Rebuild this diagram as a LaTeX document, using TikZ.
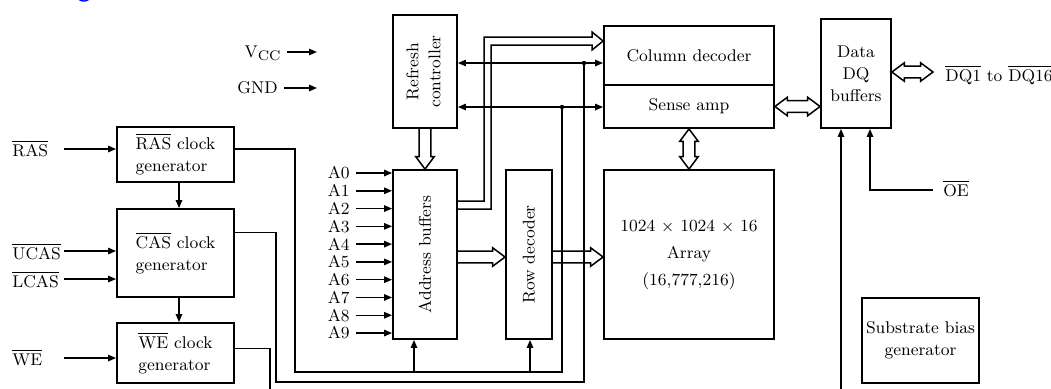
\documentclass[tikz,border=0pt]{standalone}
\usepackage{graphicx}
\usetikzlibrary{arrows.meta,calc}
\newcommand\ovl[1]{$\overline{\mbox{#1}}$}
\def\busw{2.9pt}\def\bush{4.6pt}\def\busl{6.2pt}
\newcommand\hbusR[2]{\draw[bus] let \p1=#1, \p2=#2 in (\x1,\y1+\busw) -- (\x2-\busl,\y1+\busw) -- (\x2-\busl,\y1+\bush) -- (\x2,\y1) -- (\x2-\busl,\y1-\bush) -- (\x2-\busl,\y1-\busw) -- (\x1,\y1-\busw);}
\newcommand\hbusD[2]{\draw[bus] let \p1=#1, \p2=#2 in (\x1,\y1) -- (\x1+\busl,\y1+\bush) -- (\x1+\busl,\y1+\busw) -- (\x2-\busl,\y1+\busw) -- (\x2-\busl,\y1+\bush) -- (\x2,\y1) -- (\x2-\busl,\y1-\bush) -- (\x2-\busl,\y1-\busw) -- (\x1+\busl,\y1-\busw) -- (\x1+\busl,\y1-\bush) -- cycle;}
\newcommand\vbusS[2]{\draw[bus] let \p1=#1, \p2=#2 in (\x1-\busw,\y1) -- (\x1-\busw,\y2+\busl) -- (\x1-\bush,\y2+\busl) -- (\x1,\y2) -- (\x1+\bush,\y2+\busl) -- (\x1+\busw,\y2+\busl) -- (\x1+\busw,\y1);}
\newcommand\vbusD[2]{\draw[bus] let \p1=#1, \p2=#2 in (\x1,\y1) -- (\x1+\bush,\y1-\busl) -- (\x1+\busw,\y1-\busl) -- (\x1+\busw,\y2+\busl) -- (\x1+\bush,\y2+\busl) -- (\x1,\y2) -- (\x1-\bush,\y2+\busl) -- (\x1-\busw,\y2+\busl) -- (\x1-\busw,\y1-\busl) -- (\x1-\bush,\y1-\busl) -- cycle;}
\tikzset{
 box/.style={draw, line width=0.9pt, inner sep=1pt, align=center, font=\fontsize{8.5}{11}\selectfont},
 lbl/.style={inner sep=3pt, font=\fontsize{8.5}{11}\selectfont},
 sig/.style={line width=0.75pt, -{Triangle[length=4pt,width=3.2pt]}},
 sigB/.style={line width=0.75pt, {Triangle[length=4pt,width=3.2pt]}-{Triangle[length=4pt,width=3.2pt]}},
 wire/.style={line width=0.75pt},
 bus/.style={line width=0.75pt, line join=miter},
}
\begin{document}
\begin{tikzpicture}[x=0.5pt,y=-0.5pt]
\useasboundingbox (0,0) rectangle (1051,388);
\node[text=blue, font=\fontsize{14}{14}\sffamily\selectfont, anchor=base, inner sep=0] (ttl) at (84,-4) {g};

% boxes
\node[box, align=left, minimum width=58.5pt, minimum height=27.5pt] (ras) at (175.5,154.5) {\ovl{RAS} clock\\generator};
\node[box, align=left, minimum width=58.5pt, minimum height=44pt] (cas) at (175.5,253) {\ovl{CAS} clock\\generator};
\node[box, align=left, minimum width=58.5pt, minimum height=30pt] (we) at (175.5,353) {\ovl{WE} clock\\generator};
\node[box, minimum width=32pt, minimum height=56.5pt] (ref) at (425,71.5) {\rotatebox{90}{\begin{tabular}{@{}c@{}}Refresh\\controller\end{tabular}}};
\node[box, minimum width=32pt, minimum height=84.5pt] (addr) at (425,254.5) {\rotatebox{90}{Address buffers}};
\node[box, minimum width=23pt, minimum height=84.5pt] (row) at (529,254.5) {\rotatebox{90}{Row decoder}};
\node[box, minimum width=85pt, minimum height=29.5pt] (col) at (689,55.5) {Column decoder};
\node[box, minimum width=85pt, minimum height=21.5pt] (sense) at (689,106.5) {Sense amp};
\node[box, minimum width=85pt, minimum height=84.5pt, font=\fontsize{8.5}{13.5}\selectfont] (arr) at (689,254.5) {1024 $\times$ 1024 $\times$ 16\\Array\\(16,777,216)};
\node[box, minimum width=35pt, minimum height=54.5pt] (dq) at (856,73.5) {Data\\DQ\\buffers};
\node[box, minimum width=58.5pt, minimum height=42.5pt] (sub) at (920.5,340.5) {Substrate bias\\generator};

% power labels
\node[lbl, anchor=base east] (vcc) at (287,57) {V\raisebox{-1.6pt}{\fontsize{7}{7}\selectfont CC}};
\node[lbl, anchor=base east] (gnd) at (284,93) {GND};
\coordinate (vcce) at (317,52);
\coordinate (gnde) at (317,88);
\draw[sig] (vcc.east |- vcce) -- (vcce);
\draw[sig] (gnd.east |- gnde) -- (gnde);

% control inputs
\node[lbl, anchor=base west] (lras) at (6,156) {\ovl{RAS}};
\node[lbl, anchor=base west] (lucas) at (6,259) {\ovl{UCAS}};
\node[lbl, anchor=base west] (llcas) at (6,287) {\ovl{LCAS}};
\node[lbl, anchor=base west] (lwe) at (6,365) {\ovl{WE}};
\coordinate (iras) at (64,149);
\coordinate (iucas) at (64,251);
\coordinate (ilcas) at (64,279);
\coordinate (iwe) at (64,358);
\draw[sig] (iras) -- (iras -| ras.west);
\draw[sig] (iucas) -- (iucas -| cas.west);
\draw[sig] (ilcas) -- (ilcas -| cas.west);
\draw[sig] (iwe) -- (iwe -| we.west);
\draw[sig] ([xshift=1.75pt]ras.south) -- ([xshift=1.75pt]cas.north);
\draw[sig] ([xshift=1.75pt]cas.south) -- ([xshift=1.75pt]we.north);

% address inputs
\foreach \i in {0,...,9} {
  \node[lbl, anchor=east] (a\i) at (356,{173+17.78*\i}) {A\i};
  \draw[sig] (a\i) -- (a\i -| addr.west);
}

% clock lines
\coordinate (rasout) at ($(ras.north east)!0.4!(ras.south east)$);
\coordinate (casout) at ($(cas.north east)!0.27!(cas.south east)$);
\coordinate (weout) at ($(we.north east)!0.43!(we.south east)$);
\coordinate (r1) at (295,372);
\coordinate (r2) at (562,372);
\coordinate (c1) at (276,382);
\coordinate (c2) at (584,382);
\coordinate (w1) at (270,395);
\coordinate (d1) at (584,63);
\coordinate (d2) at (562,107);
\draw[wire] (rasout) -| (r1) -- (r2) -- (d2);
\draw[wire] (casout) -| (c1) -- (c2) -- (d1);
\draw[wire] (weout) -| (w1);
\coordinate (t1) at (414,372);
\coordinate (t2) at (530,372);
\draw[sig] (t1) -- (t1 |- addr.south);
\draw[sig] (t2) -- (t2 |- row.south);
\fill (d1) circle (1.1pt);
\fill (d2) circle (1.1pt);

% refresh controller links
\draw[sigB] (ref.east |- d1) -- (col.west |- d1);
\draw[sigB] (ref.east |- d2) -- (sense.west |- d2);

% buses
\vbusS{(ref.south)}{(addr.north)}
\hbusR{($(addr.east)+(0,2.5)$)}{($(row.west)+(0,2.5)$)}
\hbusR{($(row.east)+(0,2.5)$)}{($(arr.west)+(0,2.5)$)}
\vbusD{(sense.south)}{(arr.north)}
\hbusD{(sense.east)}{(sense.east -| dq.west)}
\coordinate (dqo) at (933,72);
\hbusD{(dq.east |- dqo)}{(dqo)}
\draw[bus] (addr.east |- 0,201) -- (484,201) -- (484,37) -- (592,37) -- (592,32) -- (col.west |- 0,41) -- (592,50) -- (592,45) -- (491,45) -- (491,209) -- (addr.east |- 0,209);

% DQ side
\node[lbl, anchor=base west] (ldq) at (939,81) {\ovl{DQ1} to \ovl{DQ16}};
\node[lbl, anchor=base west] (loe) at (937,196) {\ovl{OE}};
\coordinate (oein) at (933,190);
\coordinate (web) at (841,395);
\draw[sig] (oein) -| ([xshift=7pt]dq.south);
\draw[sig] (web) -- ([xshift=-7.5pt]dq.south);
\end{tikzpicture}
\end{document}
